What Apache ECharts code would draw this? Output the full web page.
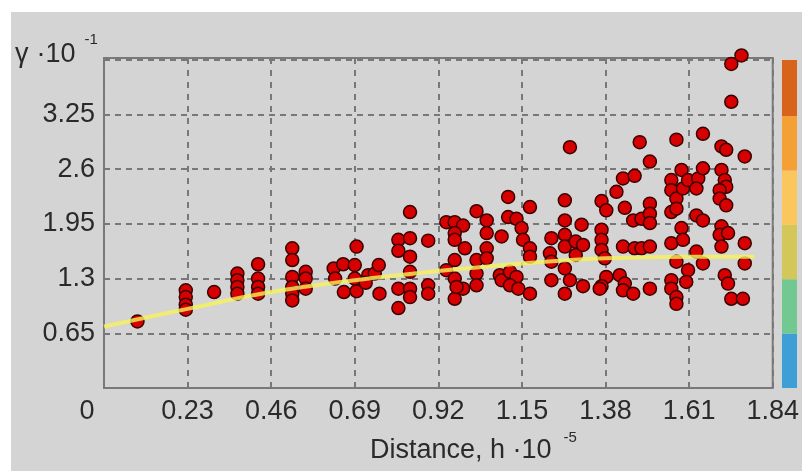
<!DOCTYPE html>
<html><head><meta charset="utf-8">
<script src="https://cdn.jsdelivr.net/npm/echarts@6/dist/echarts.min.js"></script>
<style>html,body{margin:0;padding:0;background:#fff;} #c{width:802px;height:471px;}</style>
</head><body><div id="c"></div>
<script>
// ---- data ----
const xStep = 0.23;
const yStep = 0.65;
const xTickLabels = ['0','0.23','0.46','0.69','0.92','1.15','1.38','1.61','1.84'];
const yTickLabels = ['0.65','1.3','1.95','2.6','3.25'];
const xMax = 1.84;
const yMax = 3.92;

const distance = [
0.092,
0.225,0.225,0.225,0.225,
0.303,
0.367,0.367,0.367,0.367,
0.424,0.424,0.424,0.424,
0.518,0.518,0.518,0.518,0.518,0.518,
0.555,0.555,0.555,
0.632,0.636,0.658,0.660,0.690,0.695,0.695,0.690,0.727,0.745,0.756,0.758,0.720,
0.810,0.810,0.810,0.810,
0.842,0.842,0.842,0.842,0.842,0.842,
0.892,0.892,0.892,
0.942,0.965,0.988,0.965,0.965,0.993,0.965,0.942,0.965,0.988,0.965,0.970,
1.025,1.025,1.025,1.025,
1.053,1.053,1.053,1.053,
1.094,1.089,1.094,
1.112,1.112,1.135,1.149,1.153,1.172,1.172,1.172,1.117,1.135,1.117,1.140,1.172,
1.231,1.227,1.231,1.231,
1.268,1.268,1.268,1.268,1.268,1.282,1.268,1.282,
1.298,1.298,1.314,1.318,1.318,
1.369,1.382,1.369,1.369,1.369,1.378,1.382,1.369,1.364,
1.410,1.428,1.460,1.433,1.456,1.479,1.428,1.460,1.479,1.419,1.433,1.428,1.456,1.474,
1.502,1.502,1.502,1.502,1.502,1.502,
1.561,1.561,1.575,1.561,1.575,1.561,1.575,1.561,1.561,1.575,1.575,1.575,1.589,1.593,1.589,1.593,1.607,1.607,1.602,
1.635,1.630,1.630,1.648,1.630,1.648,1.648,1.648,
1.699,1.712,1.699,1.708,1.712,1.694,1.694,1.712,1.699,1.694,1.717,1.699,1.708,1.717,1.726,1.758,1.726,1.726,1.754,
1.763,1.763,1.763
];
const gamma = [
0.79,
1.16,1.08,0.99,0.93,
1.14,
1.36,1.28,1.20,1.12,
1.47,1.30,1.20,1.12,
1.66,1.52,1.32,1.20,1.12,1.04,
1.38,1.30,1.18,
1.42,1.30,1.47,1.14,1.46,1.68,1.15,1.30,1.34,1.36,1.46,1.12,1.25,
1.76,1.63,1.18,0.95,
2.09,1.78,1.56,1.38,1.18,1.08,
1.75,1.22,1.12,
1.97,1.97,1.93,1.84,1.76,1.66,1.52,1.40,1.30,1.18,1.06,1.20,
2.10,1.52,1.36,1.22,
1.99,1.84,1.66,1.54,
1.80,1.34,1.28,
2.27,2.03,2.01,1.90,1.76,2.15,1.66,1.56,1.38,1.32,1.22,1.18,1.12,
1.78,1.60,1.50,1.28,
2.23,1.99,1.82,1.68,1.42,1.28,1.12,2.86,
1.74,1.58,1.94,1.70,1.21,
2.22,2.11,1.88,1.76,1.64,1.54,1.32,1.21,1.18,
2.33,2.49,2.52,2.14,1.99,2.01,1.68,1.66,1.66,1.34,1.24,1.16,1.12,2.92,
2.69,2.19,2.07,1.96,1.68,1.18,
2.47,2.35,2.25,2.09,2.13,1.72,1.50,1.28,1.18,1.08,1.00,2.95,2.59,2.37,1.90,1.76,2.47,1.40,1.26,
2.49,2.37,2.05,1.99,1.62,1.48,2.61,3.02,
2.87,2.83,2.59,2.47,2.39,2.35,2.25,2.17,1.92,1.82,1.84,1.68,1.34,1.24,1.06,1.06,3.40,3.85,3.95,
2.75,1.72,1.48
];
const fitX = [0, 0.23, 0.46, 0.69, 0.92, 1.15, 1.38, 1.61, 1.79];
const fitY = [0.73, 0.94, 1.14, 1.28, 1.39, 1.48, 1.54, 1.56, 1.56];

const colorbarBounds = [0, 0.65, 1.3, 1.95, 2.6, 3.25, 3.92];
const colorbarColors = ['#3d9fd6', '#72c891', '#d3c75a', '#fbc65e', '#f5a035', '#d8641c'];

// ---- chart ----
const FONT = "'Liberation Sans', Arial, sans-serif";
const TXT = '#2a2a2a';
const chart = echarts.init(document.getElementById('c'), null, {renderer: 'canvas'});

const points = distance.map((d, i) => [d, gamma[i]]);
const fit = fitX.map((d, i) => [d, fitY[i]]);

const cbSeries = colorbarColors.map((c, i) => ({
  type: 'bar', xAxisIndex: 1, yAxisIndex: 1, stack: 'cb', barWidth: '100%',
  silent: true, itemStyle: {color: c},
  data: [colorbarBounds[i + 1] - colorbarBounds[i]]
}));

const option = {
  backgroundColor: '#ffffff',
  animation: false,
  textStyle: {fontFamily: FONT},
  graphic: [{
    type: 'rect', z: -100, silent: true,
    shape: {x: 11, y: 12, width: 791, height: 459},
    style: {fill: '#d4d4d4'}
  }],
  title: {
    text: '{g|γ} {t|·10}{s|-1}',
    left: 15, top: 32, padding: 0,
    textStyle: {
      fontWeight: 'normal',
      rich: {
        g: {fontSize: 27, fontWeight: 'normal', color: TXT, fontFamily: FONT, lineHeight: 36, verticalAlign: 'bottom'},
        t: {fontSize: 27, fontWeight: 'normal', color: TXT, fontFamily: FONT, lineHeight: 36, verticalAlign: 'bottom', padding: [0, 0, 0, 3]},
        s: {fontSize: 15, fontWeight: 'normal', color: TXT, fontFamily: FONT, lineHeight: 15, verticalAlign: 'top', padding: [0, 0, 0, 9]}
      }
    }
  },
  grid: [
    {left: 104, top: 58, right: 29, bottom: 83, show: true, borderColor: '#7a7a7a', borderWidth: 2, backgroundColor: 'transparent'},
    {left: 782, top: 60, width: 15, bottom: 83, show: false}
  ],
  xAxis: [{
    type: 'value', min: 0, max: xMax, interval: xStep, gridIndex: 0,
    name: '{a|Distance, h ·10}{s|-5}',
    nameLocation: 'middle', nameGap: 42,
    nameTextStyle: {
      padding: [0, 0, 0, 70],
      rich: {
        a: {fontSize: 27, color: TXT, fontFamily: FONT, lineHeight: 34, verticalAlign: 'bottom'},
        s: {fontSize: 15, color: TXT, fontFamily: FONT, lineHeight: 15, verticalAlign: 'top', padding: [0, 0, 0, 12]}
      }
    },
    axisLine: {show: false}, axisTick: {show: false},
    axisLabel: {
      fontSize: 27, color: TXT, fontFamily: FONT, margin: 10,
      formatter: v => {
        const i = Math.round(v / xStep);
        const t = xTickLabels[i] || '';
        return i === 0 ? '{z|' + t + '}' : t;
      },
      rich: {z: {fontSize: 27, color: TXT, fontFamily: FONT, padding: [0, 34, 0, 0]}}
    },
    splitLine: {show: true, lineStyle: {type: [6, 6], color: '#787878', width: 2}}
  }, {
    type: 'category', gridIndex: 1, data: [''], show: false
  }],
  yAxis: [{
    type: 'value', min: 0, max: yMax, interval: yStep, gridIndex: 0,
    axisLine: {show: false}, axisTick: {show: false},
    axisLabel: {
      fontSize: 27, color: TXT, fontFamily: FONT, margin: 9,
      formatter: v => {
        const i = Math.round(v / yStep);
        if (Math.abs(v - i * yStep) > 1e-6) return '';
        return (i >= 1 && i <= yTickLabels.length) ? yTickLabels[i - 1] : '';
      }
    },
    splitLine: {show: true, lineStyle: {type: [6, 5], color: '#787878', width: 2}}
  }, {
    type: 'value', gridIndex: 1, min: 0, max: yMax, show: false
  }],
  series: [{
    type: 'scatter', data: points, symbolSize: 13, clip: false, z: 3,
    itemStyle: {color: '#d60000', borderColor: '#3a0000', borderWidth: 1.5, opacity: 1}
  }, {
    type: 'line', data: fit, smooth: 0.4, symbol: 'none', z: 4, clip: false,
    lineStyle: {color: 'rgba(248,242,90,0.8)', width: 4}
  }].concat(cbSeries)
};
chart.setOption(option);
</script>
</body></html>
